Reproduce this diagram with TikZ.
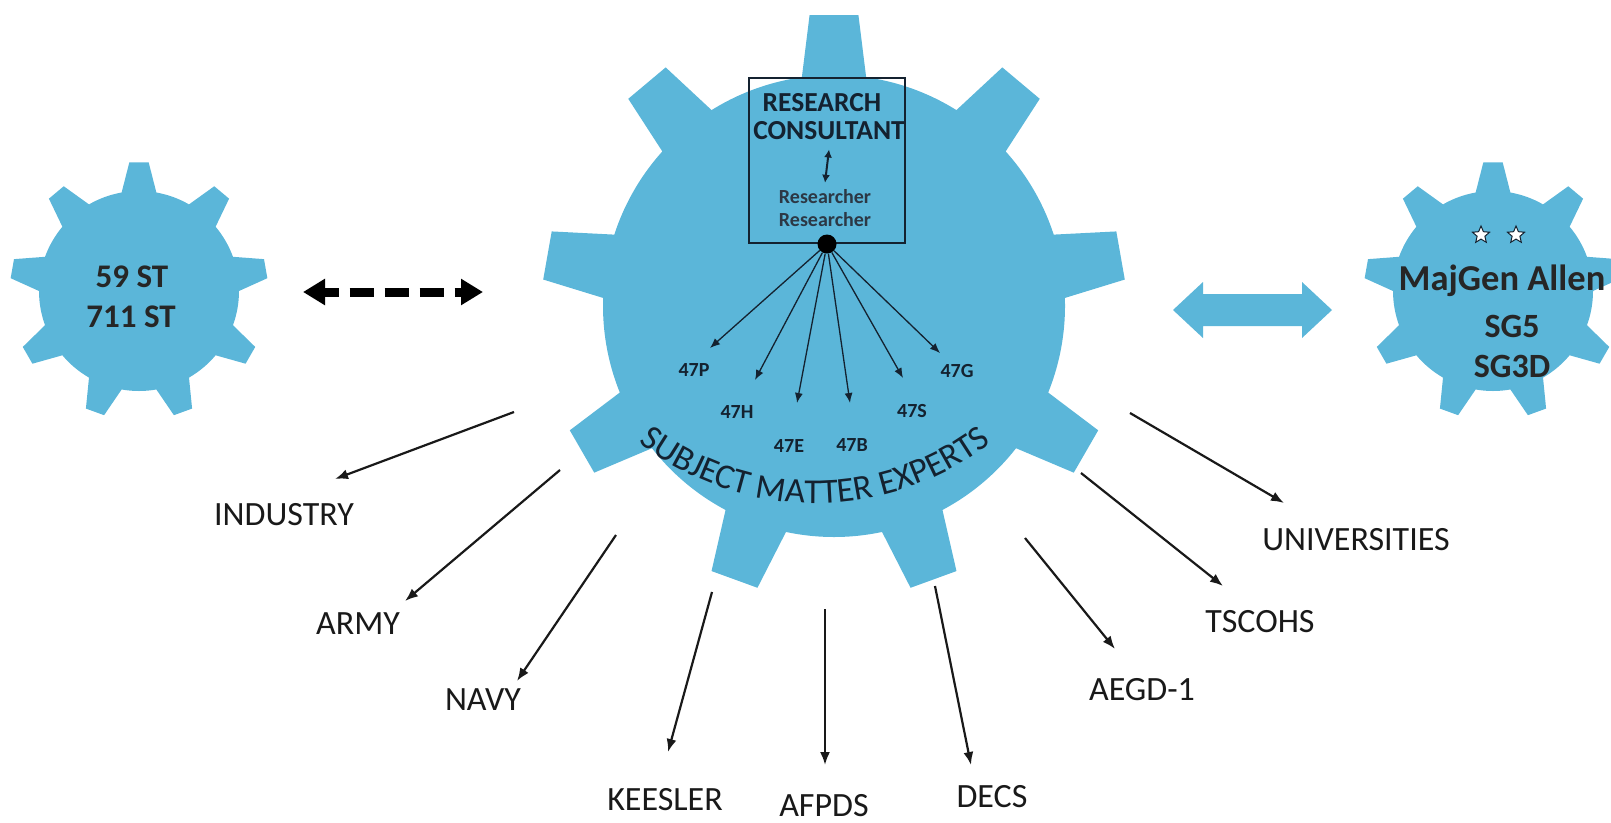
\documentclass[tikz,border=0pt]{standalone}
\usepackage{fontspec}
\setmainfont{Carlito}
\usepackage{xcolor}
\usetikzlibrary{arrows.meta,shapes.geometric,decorations.text}

\definecolor{gearblue}{RGB}{91,182,217}
\definecolor{inkblue}{RGB}{20,34,48}

\newcommand{\gearshape}[6]{%
  \fill[gearblue, shift={(#1,#2)}] (90-#5:#3)
    \foreach \a in {90,130,...,410} {
      -- (\a-#5:#3) -- (\a-#6:#4) -- (\a+#6:#4) -- (\a+#5:#3)
      arc[start angle=\a+#5, end angle=\a+40-#5, radius=#3]
    } -- cycle;}

\begin{document}
\begin{tikzpicture}[x=1pt,y=1pt,
  orglabel/.style={font=\fontsize{34}{40}\selectfont, text=black!90, inner sep=0pt, anchor=base},
  orgarrow/.style={draw=black!90, line width=2.2pt, -{Latex[length=13pt,width=10pt]}},
  unitlabel/.style={font=\bfseries\fontsize{20}{24}\selectfont, text=inkblue, inner sep=0pt},
  unitarrow/.style={draw=inkblue, line width=1.3pt, -{Latex[length=10pt,width=8pt]}},
  gearlabel/.style={font=\bfseries\fontsize{33}{40}\selectfont, text=black!85, inner sep=0pt, anchor=base},
  boxtext/.style={font=\bfseries\fontsize{27.5}{30}\selectfont, text=inkblue, inner sep=0pt, anchor=base},
  restext/.style={font=\bfseries\fontsize{20}{22}\selectfont, text=inkblue!90, inner sep=0pt, anchor=base}]
  \useasboundingbox (0,0) rectangle (1611,-822);

  \gearshape{139}{-291}{100}{129}{10}{4.3}
  \gearshape{834}{-306}{231}{292}{8}{4.8}
  \gearshape{1493}{-291}{100}{129}{10}{4.3}

  \node[gearlabel] (st59) at (132,-287) {59 ST};
  \node[gearlabel] (st711) at (131,-327) {711 ST};

  \node[star, star points=5, star point ratio=2.2, minimum size=18pt, inner sep=0pt, draw=inkblue, line width=1pt, fill=white] (star1) at (1481,-235) {};
  \node[star, star points=5, star point ratio=2.2, minimum size=18pt, inner sep=0pt, draw=inkblue, line width=1pt, fill=white] (star2) at (1516,-235) {};
  \node[gearlabel, font=\bfseries\fontsize{36.5}{40}\selectfont] (allen) at (1502,-290) {MajGen Allen};
  \node[gearlabel, font=\bfseries\fontsize{34}{40}\selectfont] (sg5) at (1512,-337) {SG5};
  \node[gearlabel, font=\bfseries\fontsize{34}{40}\selectfont] (sg3d) at (1512,-377) {SG3D};

  \coordinate (dashL) at (303,-292);
  \coordinate (dashR) at (483,-292);
  \draw[line width=9pt, dash pattern=on 24pt off 11pt, dash phase=9pt, {Triangle[length=22pt,width=25pt]}-{Triangle[length=22pt,width=25pt]}] (dashL) -- (dashR);

  \fill[gearblue] (1173,-310) -- (1203,-282) -- (1203,-294) -- (1302,-294) -- (1302,-282) -- (1332,-310) -- (1302,-338) -- (1302,-326) -- (1203,-326) -- (1203,-338) -- cycle;

  \node[draw=inkblue, line width=2.5pt, minimum width=156pt, minimum height=165pt, inner sep=0pt] (rcbox) at (827,-160.5) {};
  \node[boxtext] (research) at (822,-111) {RESEARCH};
  \node[boxtext] (consult) at (829,-139.5) {CONSULTANT};
  \node[restext] (res1) at (825,-203) {Researcher};
  \node[restext] (res2) at (825,-226) {Researcher};
  \draw[inkblue, line width=2pt, {Latex[length=8pt,width=8pt]}-{Latex[length=8pt,width=8pt]}] ([yshift=-10pt]consult.base) -- ([yshift=6pt]res1.north);
  \node[circle, fill=black, minimum size=19pt, inner sep=0pt] (rdot) at (827,-244) {};

  \node[unitlabel] (u47p) at (694,-370) {47P};
  \node[unitlabel] (u47h) at (737,-412) {47H};
  \node[unitlabel] (u47e) at (789,-446) {47E};
  \node[unitlabel] (u47b) at (852,-445) {47B};
  \node[unitlabel] (u47s) at (912,-411) {47S};
  \node[unitlabel] (u47g) at (957,-371) {47G};
  \coordinate (t47p) at (710,-348);
  \coordinate (t47h) at (755,-380);
  \coordinate (t47e) at (797,-403);
  \coordinate (t47b) at (850,-403);
  \coordinate (t47s) at (903,-378);
  \coordinate (t47g) at (940,-353);
  \draw[unitarrow] (rdot) -- (t47p); \draw[unitarrow] (rdot) -- (t47h); \draw[unitarrow] (rdot) -- (t47e);
  \draw[unitarrow] (rdot) -- (t47b); \draw[unitarrow] (rdot) -- (t47s); \draw[unitarrow] (rdot) -- (t47g);

  \path[decorate, decoration={text along path, text align=center, text color=inkblue,
    text={|\fontsize{35}{38}\selectfont|SUBJECT MATTER EXPERTS}}]
    (815,-215) ++(200:288) arc[start angle=200, end angle=340, radius=288];

  \node[orglabel] (industry) at (284,-525) {INDUSTRY};
  \node[orglabel] (army) at (358,-634) {ARMY};
  \node[orglabel] (navy) at (483,-710) {NAVY};
  \node[orglabel] (keesler) at (665,-810) {KEESLER};
  \node[orglabel] (afpds) at (824,-816) {AFPDS};
  \node[orglabel] (decs) at (992,-807) {DECS};
  \node[orglabel] (aegd) at (1142,-700) {AEGD-1};
  \node[orglabel] (tscohs) at (1260,-632) {TSCOHS};
  \node[orglabel] (univ) at (1356,-550) {UNIVERSITIES};

  \coordinate (indA) at (514,-412);  \coordinate (indB) at (335,-479);
  \coordinate (armA) at (560,-470);  \coordinate (armB) at (405,-601);
  \coordinate (navA) at (616,-535);  \coordinate (navB) at (517,-681);
  \coordinate (keeA) at (712,-592);  \coordinate (keeB) at (668,-752);
  \coordinate (afpA) at (825,-609);  \coordinate (afpB) at (825,-765);
  \coordinate (decA) at (935,-586);  \coordinate (decB) at (971,-765);
  \coordinate (aegA) at (1025,-538); \coordinate (aegB) at (1115,-649);
  \coordinate (tscA) at (1081,-473); \coordinate (tscB) at (1223,-586);
  \coordinate (uniA) at (1130,-413); \coordinate (uniB) at (1284,-503);
  \draw[orgarrow] (indA) -- (indB); \draw[orgarrow] (armA) -- (armB); \draw[orgarrow] (navA) -- (navB);
  \draw[orgarrow] (keeA) -- (keeB); \draw[orgarrow] (afpA) -- (afpB); \draw[orgarrow] (decA) -- (decB);
  \draw[orgarrow] (aegA) -- (aegB); \draw[orgarrow] (tscA) -- (tscB); \draw[orgarrow] (uniA) -- (uniB);
\end{tikzpicture}
\end{document}
